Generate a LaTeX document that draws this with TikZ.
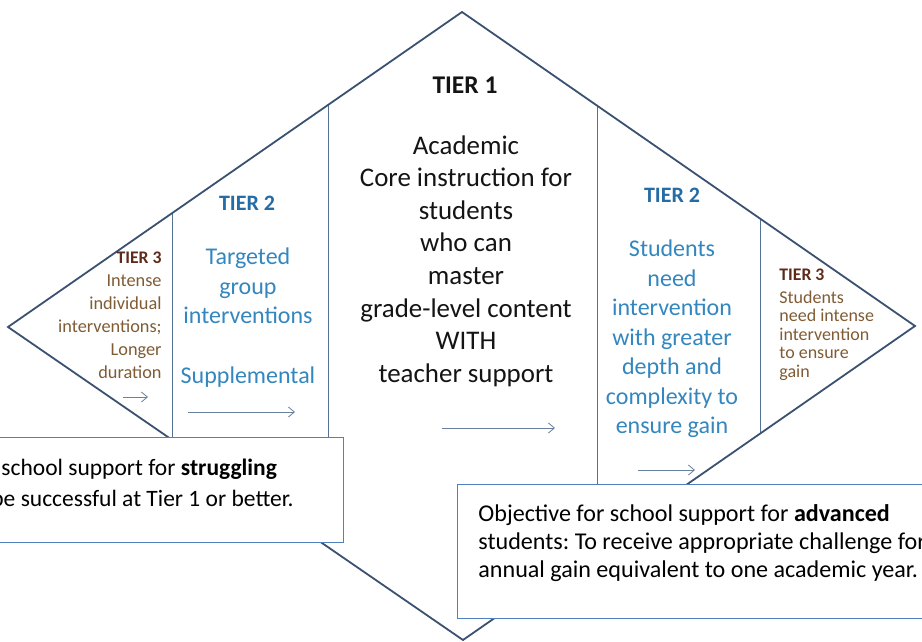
\documentclass[tikz,border=0pt]{standalone}
\usepackage{fontspec}
\setmainfont{Carlito}
\usetikzlibrary{arrows.meta}
\frenchspacing
\definecolor{rimblue}{RGB}{58,82,112}
\definecolor{splitblue}{RGB}{84,114,150}
\definecolor{boxblue}{RGB}{79,129,189}
\definecolor{arrowgray}{RGB}{105,128,158}
\definecolor{tiertwohead}{RGB}{36,108,165}
\definecolor{tiertwotext}{RGB}{52,135,190}
\definecolor{tierthreehead}{RGB}{96,42,26}
\definecolor{tierthreetext}{RGB}{128,92,52}
\definecolor{tieronetext}{RGB}{20,20,20}

\begin{document}
\begin{tikzpicture}[x=1pt, y=-1pt, thick]
    % Define styles
    \tikzstyle{rim} = [draw=rimblue, line width=1.8pt, line join=miter]
    \tikzstyle{split} = [draw=splitblue, line width=0.9pt]
    \tikzstyle{flow} = [draw=arrowgray, line width=0.8pt, -{Straight Barb[length=6pt,width=10pt]}]
    \tikzstyle{objbox} = [rectangle, draw=boxblue, line width=1.3pt, fill=white, inner sep=0pt]
    \tikzstyle{boxtext} = [inner sep=0pt, text=black, font=\fontsize{23.5}{28.5}\selectfont]
    \tikzstyle{tieronehead} = [inner sep=0pt, text=tieronetext, font=\fontsize{25.5}{30}\selectfont\bfseries]
    \tikzstyle{tieronebody} = [inner sep=0pt, text=tieronetext, align=center, font=\fontsize{26.9}{32.6}\selectfont]
    \tikzstyle{tiertwohd} = [inner sep=0pt, text=tiertwohead, font=\fontsize{22}{26}\selectfont\bfseries]
    \tikzstyle{tiertwobody} = [inner sep=0pt, text=tiertwotext, align=center, font=\fontsize{24}{29.5}\selectfont]
    \tikzstyle{tierthreehd} = [inner sep=0pt, text=tierthreehead, font=\fontsize{17.7}{21}\selectfont\bfseries]
    \tikzstyle{tierthreebody} = [inner sep=0pt, text=tierthreetext, font=\fontsize{18.3}{23}\selectfont]

    % Canvas
    \fill[white] (0,0) rectangle (922,642);
    \useasboundingbox (0,0) rectangle (922,642);
    \clip (0,0) rectangle (922,642);

    % Corners of the diamond
    \coordinate (top) at (462,12);
    \coordinate (left) at (8,327);
    \coordinate (right) at (915,326);
    \coordinate (bottom) at (463,640);

    % Split lines between the tiers
    \draw[split] (172,213) -- (172,440);
    \draw[split] (328,105) -- (328,440);
    \draw[split] (597,106) -- (597,486);
    \draw[split] (760,219) -- (760,434);

    % Diamond
    \draw[rim] (top) -- (right) -- (bottom) -- (left) -- cycle;

    % Place nodes - Tier 1
    \node[tieronehead] (t1head) at (465,85) {TIER 1};
    \node[tieronebody] (t1body) at (466,261) {Academic\\Core instruction for\\students\\who can\\master\\grade-level content\\WITH\\teacher support};

    % Place nodes - Tier 2
    \node[tiertwohd] (t2Lhead) at (247,203) {TIER 2};
    \node[tiertwobody] (t2Lbody) at (248,286) {Targeted\\group\\interventions};
    \node[tiertwobody] (t2Lsupp) at (248,377) {Supplemental};
    \node[tiertwohd] (t2Rhead) at (672,195) {TIER 2};
    \node[tiertwobody] (t2Rbody) at (672,339) {Students\\need\\intervention\\with greater\\depth and\\complexity to\\ensure gain};

    % Place nodes - Tier 3
    \node[tierthreehd, anchor=east] (t3Lhead) at (162,258) {TIER 3};
    \node[tierthreebody, anchor=east, align=right] (t3Lbody) at (162,327) {Intense\\individual\\interventions;\\Longer\\duration};
    \node[tierthreehd, anchor=west] (t3Rhead) at (779,275) {TIER 3};
    \node[tierthreebody, anchor=west, align=left, font=\fontsize{18}{18.4}\selectfont] (t3Rbody) at (779,335.5) {Students\\need intense\\intervention\\to ensure\\gain};

    % Arrows under the tiers
    \coordinate (t3Lfrom) at (123,397);
    \coordinate (t3Lto) at (148,397);
    \coordinate (t2Lfrom) at (188,412);
    \coordinate (t2Lto) at (295,412);
    \coordinate (t1from) at (442,428);
    \coordinate (t1to) at (555,428);
    \coordinate (t2Rfrom) at (638,470);
    \coordinate (t2Rto) at (695,470);
    \draw[flow] (t3Lfrom) -- (t3Lto);
    \draw[flow] (t2Lfrom) -- (t2Lto);
    \draw[flow] (t1from) -- (t1to);
    \draw[flow] (t2Rfrom) -- (t2Rto);

    % Objective boxes
    \node[objbox, minimum width=364pt, minimum height=105pt, anchor=north east] (strugglebox) at (344,437) {};
    \node[boxtext, anchor=base west] (struggleone) at (1,475) {school support for \textbf{struggling}};
    \node[boxtext, anchor=base west] (struggletwo) at (-9,506) {be successful at Tier 1 or better.};

    \node[objbox, minimum width=480pt, minimum height=134pt, anchor=north west] (advbox) at (457,484) {};
    \node[boxtext, anchor=west, align=left, font=\fontsize{24.1}{28.2}\selectfont] (advtext) at (478,543) {Objective for school support for \textbf{advanced}\\students: To receive appropriate challenge for\\annual gain equivalent to one academic year.};
\end{tikzpicture}
\end{document}
